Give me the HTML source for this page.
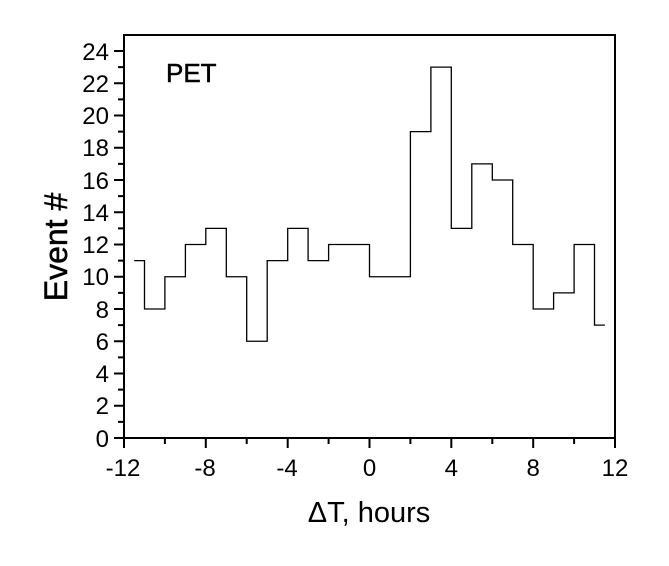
<!DOCTYPE html>
<html><head><meta charset="utf-8"><style>body{margin:0;background:#fff}svg{display:block}text{font-family:"Liberation Sans",Arial,sans-serif;fill:#000}</style></head><body>
<svg width="669" height="566" viewBox="0 0 669 566" xmlns="http://www.w3.org/2000/svg">
<rect x="124" y="35" width="491" height="403" fill="none" stroke="#000" stroke-width="2"/>
<path stroke="#000" stroke-width="2" fill="none" d="
M114,438H124 M118,421.9H124 M114,405.75H124 M118,389.6H124 M114,373.5H124 M118,357.4H124 M114,341.25H124 M118,325.1H124 M114,309H124 M118,292.9H124 M114,276.75H124 M118,260.6H124 M114,244.5H124 M118,228.4H124 M114,212.25H124 M118,196.1H124 M114,180H124 M118,163.9H124 M114,147.75H124 M118,131.6H124 M114,115.5H124 M118,99.4H124 M114,83.25H124 M118,67.1H124 M114,51H124
M124,438V448 M164.9,438V444 M205.8,438V448 M246.7,438V444 M287.7,438V448 M328.6,438V444 M369.5,438V448 M410.4,438V444 M451.3,438V448 M492.3,438V444 M533.2,438V448 M574.1,438V444 M615,438V448"/>
<g font-size="24" text-anchor="end">
<text x="109" y="447">0</text><text x="109" y="414">2</text><text x="109" y="382">4</text><text x="109" y="350">6</text><text x="109" y="318">8</text><text x="109" y="285">10</text><text x="109" y="253">12</text><text x="109" y="221">14</text><text x="109" y="189">16</text><text x="109" y="156">18</text><text x="109" y="124">20</text><text x="109" y="92">22</text><text x="109" y="60">24</text>
</g>
<g font-size="24" text-anchor="middle">
<text x="123" y="476">-12</text><text x="205" y="476">-8</text><text x="287" y="476">-4</text><text x="369.5" y="476">0</text><text x="451.3" y="476">4</text><text x="533.2" y="476">8</text><text x="615" y="476">12</text>
</g>
<polyline fill="none" stroke="#000" stroke-width="1.3" points="134.2,260.6 144.5,260.6 144.5,309 164.9,309 164.9,276.75 185.4,276.75 185.4,244.5 205.8,244.5 205.8,228.4 226.3,228.4 226.3,276.75 246.7,276.75 246.7,341.25 267.2,341.25 267.2,260.6 287.7,260.6 287.7,228.4 308.1,228.4 308.1,260.6 328.6,260.6 328.6,244.5 369.5,244.5 369.5,276.75 410.4,276.75 410.4,131.6 430.9,131.6 430.9,67.1 451.3,67.1 451.3,228.4 471.8,228.4 471.8,163.9 492.3,163.9 492.3,180 512.7,180 512.7,244.5 533.2,244.5 533.2,309 553.6,309 553.6,292.9 574.1,292.9 574.1,244.5 594.5,244.5 594.5,325.1 604.8,325.1"/>
<text x="166" y="82" font-size="26" stroke="#000" stroke-width="0.5">PET</text>
<text x="369" y="522" font-size="29" text-anchor="middle">ΔT, hours</text>
<text transform="translate(67,247) rotate(-90)" font-size="32" text-anchor="middle" stroke="#000" stroke-width="0.5">Event #</text>
</svg></body></html>
